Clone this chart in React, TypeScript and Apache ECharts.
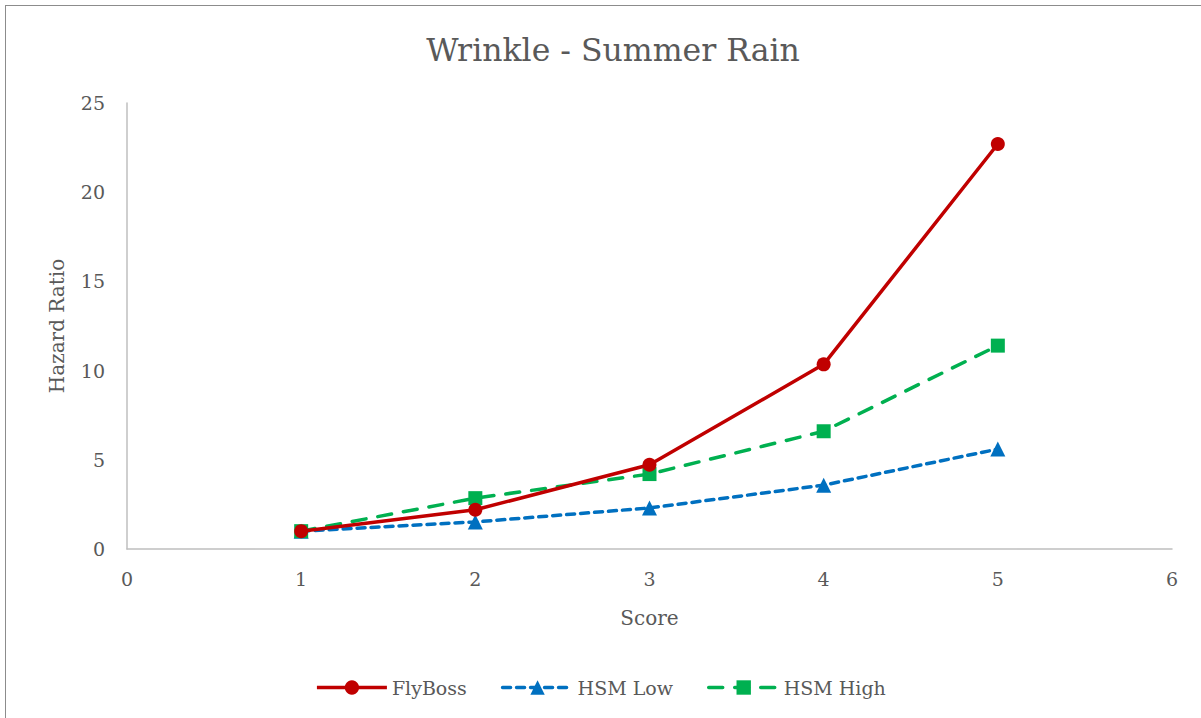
import React, { useEffect, useRef } from "react";
import * as echarts from "echarts";

const scores = [1, 2, 3, 4, 5];
const flyBoss = [1.0, 2.2, 4.72, 10.35, 22.7];
const hsmLow = [1.0, 1.52, 2.3, 3.58, 5.6];
const hsmHigh = [1.0, 2.85, 4.2, 6.6, 11.4];

const FONT = "'DejaVu Serif', 'Liberation Serif', serif";
const TXT = "#595959";

export default function App() {
  const ref = useRef<HTMLDivElement>(null);
  useEffect(() => {
    document.body.style.margin = "0";
    const chart = echarts.init(ref.current!, undefined, { renderer: "svg" });
    const pts = (arr: number[]) => scores.map((s, i) => [s, arr[i]]);
    chart.setOption({
      animation: false,
      textStyle: { fontFamily: FONT },
      title: {
        text: "Wrinkle - Summer Rain",
        top: 29,
        left: 608,
        textAlign: "center",
        textStyle: { fontFamily: FONT, fontSize: 31.5, fontWeight: "normal", color: TXT },
      },
      grid: { left: 127, right: 29, top: 103, bottom: 169 },
      xAxis: {
        type: "value",
        min: 0,
        max: 6,
        interval: 1,
        name: "Score",
        nameLocation: "middle",
        nameGap: 59,
        nameTextStyle: { fontFamily: FONT, fontSize: 20, color: TXT },
        axisLine: { show: true, lineStyle: { color: "#BFBFBF", width: 1.5 } },
        axisTick: { show: false },
        splitLine: { show: false },
        axisLabel: { fontFamily: FONT, fontSize: 19, color: TXT, margin: 20 },
      },
      yAxis: {
        type: "value",
        min: 0,
        max: 25,
        interval: 5,
        name: "Hazard Ratio",
        nameLocation: "middle",
        nameGap: 60,
        nameRotate: 90,
        nameTextStyle: { fontFamily: FONT, fontSize: 20, color: TXT },
        axisLine: { show: true, lineStyle: { color: "#BFBFBF", width: 1.5 } },
        axisTick: { show: false },
        splitLine: { show: false },
        axisLabel: { fontFamily: FONT, fontSize: 19, color: TXT, margin: 22 },
      },
      legend: {
        bottom: 16,
        left: "center",
        itemWidth: 70,
        itemHeight: 18,
        itemGap: 34,
        lineStyle: { width: 3.5 },
        textStyle: { fontFamily: FONT, fontSize: 19, color: TXT },
        data: ["FlyBoss", "HSM Low", "HSM High"],
      },
      series: [
        {
          name: "FlyBoss",
          type: "line",
          data: pts(flyBoss),
          symbol: "circle",
          symbolSize: 14,
          itemStyle: { color: "#C00000" },
          lineStyle: { color: "#C00000", width: 3.5 },
          z: 3,
        },
        {
          name: "HSM Low",
          type: "line",
          data: pts(hsmLow),
          symbol: "triangle",
          symbolSize: 15,
          itemStyle: { color: "#0070C0" },
          lineStyle: { color: "#0070C0", width: 3.5, type: [8, 6], cap: "round" },
          z: 2,
        },
        {
          name: "HSM High",
          type: "line",
          data: pts(hsmHigh),
          symbol: "rect",
          symbolSize: 14,
          itemStyle: { color: "#00B050" },
          lineStyle: { color: "#00B050", width: 3.5, type: [14, 12], cap: "round" },
          z: 2,
        },
      ],
    });
    return () => chart.dispose();
  }, []);
  return (
    <div style={{ position: "fixed", left: 0, top: 0, width: 1201, height: 718, overflow: "hidden", background: "#fff" }}>
      <div style={{ position: "absolute", left: 5, top: 5, width: 1220, height: 740, border: "1.5px solid #8C8C8C" }} />
      <div ref={ref} style={{ position: "absolute", left: 0, top: 0, width: 1201, height: 718 }} />
    </div>
  );
}
